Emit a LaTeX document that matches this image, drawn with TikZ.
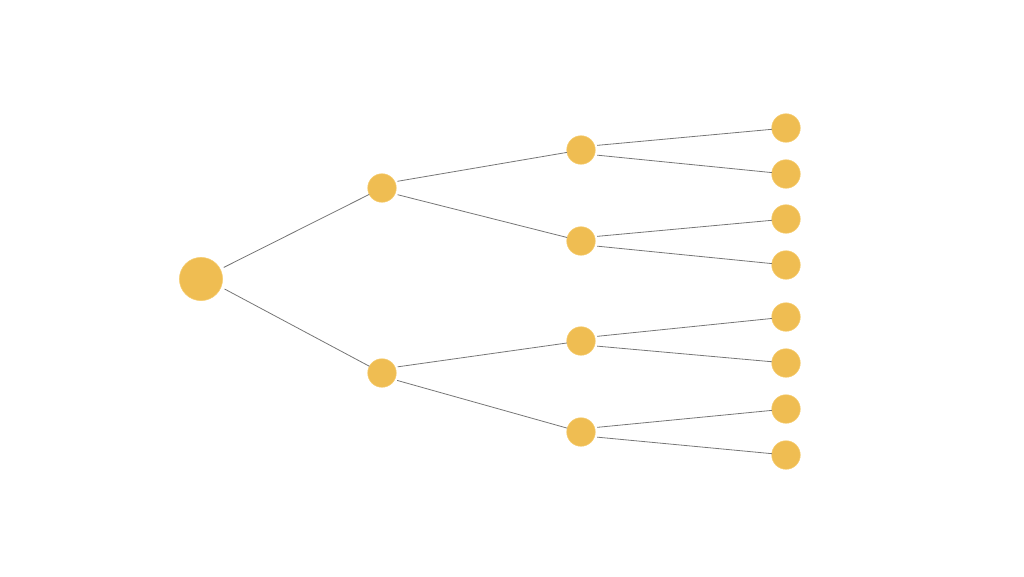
\documentclass[tikz,border=0pt]{standalone}
\usepackage{tikz}
\usetikzlibrary{positioning}

\definecolor{dotfill}{RGB}{239,189,82}
\definecolor{dotrim}{RGB}{246,204,110}
\definecolor{edgegray}{RGB}{118,118,118}

\begin{document}
\begin{tikzpicture}[x=0.75pt,y=0.75pt,yscale=-1,xscale=1,
  dot/.style={circle,fill=dotfill,draw=dotrim,line width=0.4pt,inner sep=0pt,outer sep=0pt,minimum size=21.4pt},
  bigdot/.style={dot,minimum size=32.4pt},
  edge/.style={draw=edgegray,line width=0.6pt,shorten <=2pt}]
%set diagram to the 1024 x 576 frame
\useasboundingbox (0,0) rectangle (1024,576);

% Root
\node [bigdot] (root) at (201,279) {};
% First level
\node [dot] (a1) at (382,188) {};
\node [dot] (a2) at (382,373) {};
% Second level
\node [dot] (b1) at (581,150) {};
\node [dot] (b2) at (581,241) {};
\node [dot] (b3) at (581,341) {};
\node [dot] (b4) at (581,432) {};
% Leaves
\node [dot] (c1) at (786,128) {};
\node [dot] (c2) at (786,174) {};
\node [dot] (c3) at (786,219) {};
\node [dot] (c4) at (786,265) {};
\node [dot] (c5) at (786,317) {};
\node [dot] (c6) at (786,363) {};
\node [dot] (c7) at (786,409) {};
\node [dot] (c8) at (786,455) {};

% Edges
\path [edge,shorten <=3pt] (root.27) -- (a1);
\path [edge,shorten <=3pt] (root.-22) -- (a2);
\path [edge] (a1.26) -- (b1);
\path [edge] (a1.-25) -- (b2);
\path [edge] (a2.24) -- (b3);
\path [edge] (a2.-28) -- (b4);
\path [edge] (b1.18) -- (c1);
\path [edge] (b1.-20) -- (c2);
\path [edge] (b2.18) -- (c3);
\path [edge] (b2.-20) -- (c4);
\path [edge] (b3.18) -- (c5);
\path [edge] (b3.-20) -- (c6);
\path [edge] (b4.18) -- (c7);
\path [edge] (b4.-20) -- (c8);
\end{tikzpicture}
\end{document}
